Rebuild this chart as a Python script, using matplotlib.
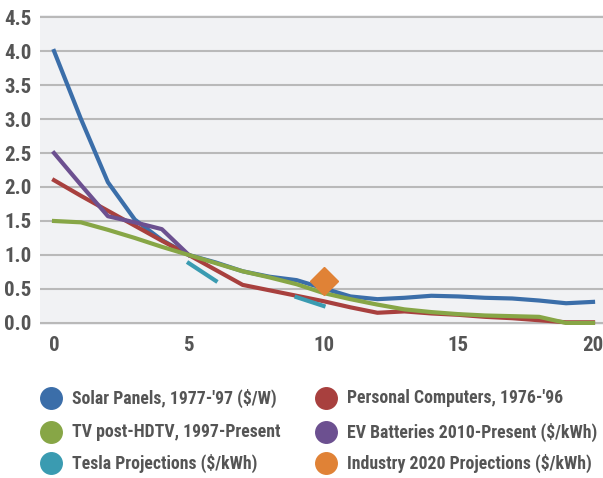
import numpy as np
import matplotlib
matplotlib.use("Agg")
import matplotlib.pyplot as plt
from matplotlib import font_manager

years = list(range(0, 21))
solar = [4.0, 3.0, 2.07, 1.52, 1.22, 1.0, 0.89, 0.76, 0.68, 0.63, 0.51, 0.39, 0.35, 0.37, 0.40, 0.39, 0.37, 0.36, 0.33, 0.29, 0.31]
computers = [2.1, 1.87, 1.65, 1.43, 1.21, 1.0, 0.78, 0.56, 0.48, 0.40, 0.32, 0.23, 0.15, 0.17, 0.14, 0.12, 0.09, 0.07, 0.04, 0.01, 0.01]
tv = [1.5, 1.48, 1.37, 1.25, 1.12, 1.0, 0.88, 0.76, 0.67, 0.57, 0.44, 0.35, 0.27, 0.20, 0.16, 0.13, 0.11, 0.10, 0.09, 0.0, 0.0]
ev_x = [0, 1, 2, 3, 4, 5]
ev = [2.5, 2.03, 1.57, 1.48, 1.38, 1.0]
tesla_x = [5, 6, 7, 8, 9, 10]
tesla = [0.88, 0.62, np.nan, np.nan, 0.38, 0.25]
industry_x = [10]
industry = [0.62]

labels = ["Solar Panels, 1977-'97 ($/W)", "Personal Computers, 1976-'96",
          "TV post-HDTV, 1997-Present", "EV Batteries 2010-Present ($/kWh)",
          "Tesla Projections ($/kWh)", "Industry 2020 Projections ($/kWh)"]
colors = ['#3b6ea9', '#a8403e', '#87a646', '#6c5090', '#3a9bb1', '#e08236']

# pick a condensed font if one is installed
available = {f.name for f in font_manager.fontManager.ttflist}
family = 'DejaVu Sans'
for cand in ['Liberation Sans Narrow', 'Roboto Condensed', 'Open Sans Condensed',
             'Noto Sans Condensed', 'DejaVu Sans Condensed', 'Noto Sans Display']:
    if cand in available:
        family = cand
        break
plt.rcParams['font.family'] = [family, 'DejaVu Sans']
plt.rcParams['font.stretch'] = 'condensed'

W, H = 603, 478
fig = plt.figure(figsize=(W/100, H/100), dpi=100)
ax = fig.add_axes([40/W, (H-325)/H, 563/W, (325-15)/H])
ax.set_facecolor('#f1f2f4')

lw = 3.0
ax.plot(years, solar, color=colors[0], lw=lw, solid_joinstyle='round', zorder=3)
ax.plot(years, computers, color=colors[1], lw=lw, solid_joinstyle='round', zorder=3)
ax.plot(years, tv, color=colors[2], lw=lw, solid_joinstyle='round', zorder=4)
ax.plot(ev_x, ev, color=colors[3], lw=lw, solid_joinstyle='round', zorder=3)
ax.plot(tesla_x, tesla, color=colors[4], lw=lw, zorder=3)
ax.plot(industry_x, industry, color=colors[5], marker='D', markersize=14, ls='none', zorder=5)

ax.set_xlim(-0.52, 20.37)
ax.set_ylim(-0.03, 4.53)
yt = np.arange(0, 4.6, 0.5)
ax.set_yticks(yt)
ax.set_yticklabels([f"{v:.1f}" for v in yt])
ax.set_xticks([0, 5, 10, 15, 20])
ax.grid(axis='y', color='#b9b9b9', lw=1.5)
ax.set_axisbelow(True)
for s in ax.spines.values():
    s.set_visible(False)
ax.tick_params(length=0, colors='#555555', pad=6)
ax.tick_params(axis='x', pad=8)
for t in ax.get_xticklabels() + ax.get_yticklabels():
    t.set_fontweight('bold')
    t.set_fontsize(15)

# legend drawn in a full-figure overlay (pixel coordinates, y downward)
lax = fig.add_axes([0, 0, 1, 1], facecolor='none')
lax.set_xlim(0, W)
lax.set_ylim(H, 0)
lax.axis('off')

col_circle_x = [51, 326]
col_text_x = [72, 347]
row_y = [398, 432, 463]

fig.canvas.draw()
renderer = fig.canvas.get_renderer()
probe = lax.text(0, 0, labels[0], fontsize=10, fontweight='bold')
w10 = probe.get_window_extent(renderer).width
probe.remove()
leg_size = 10 * 205 / w10

for i, lab in enumerate(labels):
    r, c = divmod(i, 2)
    lax.plot([col_circle_x[c]], [row_y[r]], marker='o', markersize=15.5,
             color=colors[i], ls='none')
    lax.text(col_text_x[c], row_y[r], lab, fontsize=leg_size, fontweight='bold',
             color='#555555', va='center', ha='left')

fig.savefig('out.png', dpi=100)
